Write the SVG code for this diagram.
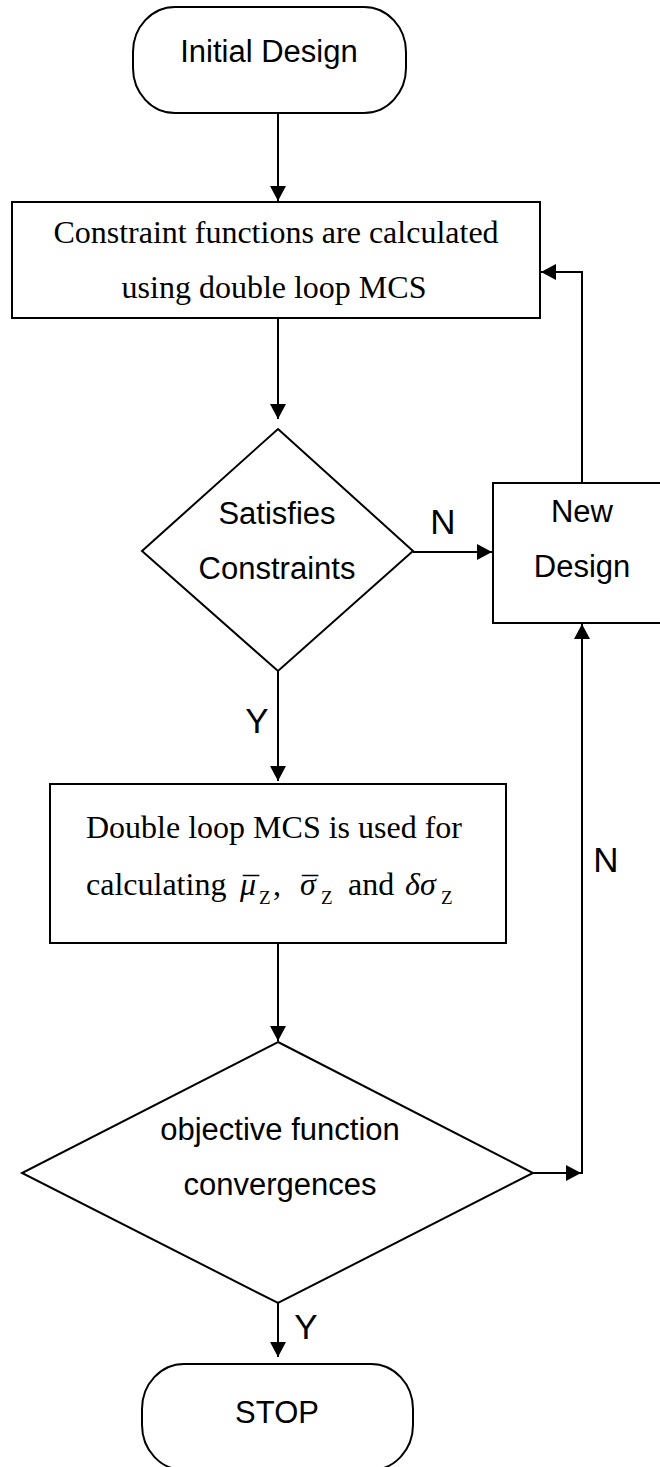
<svg xmlns="http://www.w3.org/2000/svg" width="660" height="1467" viewBox="0 0 660 1467">
<style>
.shape{fill:#fff;stroke:#000;stroke-width:2}
.conn{fill:none;stroke:#000;stroke-width:2}
.sans{font-family:"Liberation Sans",Arial,sans-serif;font-size:31px;fill:#000}
.lbl{font-family:"Liberation Sans",Arial,sans-serif;font-size:35px;fill:#000}
.serif{font-family:"Liberation Serif","Times New Roman",serif;font-size:32px;fill:#000}
.it{font-style:italic}
.sub{font-size:19px}
</style>
<defs>
<marker id="ah" markerUnits="userSpaceOnUse" markerWidth="16" markerHeight="16" refX="15" refY="8" orient="auto">
<path d="M0,0 L15,8 L0,16 z" fill="#000"/>
</marker>
</defs>
<rect width="660" height="1467" fill="#fff"/>
<g id="connectors">
<path class="conn" d="M278,113 V201" marker-end="url(#ah)"/>
<path class="conn" d="M278,318 V419" marker-end="url(#ah)"/>
<path class="conn" d="M278,671 V781" marker-end="url(#ah)"/>
<path class="conn" d="M278,943 V1041" marker-end="url(#ah)"/>
<path class="conn" d="M278,1303 V1357" marker-end="url(#ah)"/>
<path class="conn" d="M413,552 H492" marker-end="url(#ah)"/>
<path class="conn" d="M533,1173 H581" marker-end="url(#ah)"/>
<path class="conn" d="M582,1174 V624" marker-end="url(#ah)"/>
<path class="conn" d="M582,483 V272 H541" marker-end="url(#ah)"/>
<text class="lbl" x="443" y="534" text-anchor="middle">N</text>
<text class="lbl" x="257" y="733" text-anchor="middle">Y</text>
<text class="lbl" x="606" y="872" text-anchor="middle">N</text>
<text class="lbl" x="306" y="1339" text-anchor="middle">Y</text>
</g>
<g id="initial">
<rect class="shape" x="133" y="7" width="273" height="106" rx="42" ry="45"/>
<text class="sans" x="269" y="62" text-anchor="middle">Initial Design</text>
</g>
<g id="constraints-calc">
<rect class="shape" x="12" y="202" width="528" height="116"/>
<text class="serif" x="276" y="243" text-anchor="middle">Constraint functions are calculated</text>
<text class="serif" x="274" y="298" text-anchor="middle">using double loop MCS</text>
</g>
<g id="satisfies">
<polygon class="shape" points="278,429 413,551 278,671 142,551"/>
<text class="sans" x="277" y="524" text-anchor="middle">Satisfies</text>
<text class="sans" x="277" y="579" text-anchor="middle">Constraints</text>
</g>
<g id="new-design">
<rect class="shape" x="493" y="483" width="180" height="140"/>
<text class="sans" x="582" y="522" text-anchor="middle">New</text>
<text class="sans" x="582" y="577" text-anchor="middle">Design</text>
</g>
<g id="double-loop">
<rect class="shape" x="50" y="784" width="456" height="159"/>
<text class="serif" x="274" y="838" text-anchor="middle">Double loop MCS is used for</text>
<text class="serif" y="895"><tspan x="86">calculating</tspan><tspan x="240" class="it">μ</tspan><tspan x="243" y="899">¯</tspan><tspan x="259" y="904" class="sub">Z</tspan><tspan x="273" y="895">,</tspan><tspan x="300" class="it">σ</tspan><tspan x="302" y="899">¯</tspan><tspan x="321" y="904" class="sub">Z</tspan><tspan x="348" y="895">and</tspan><tspan x="405" class="it">δσ</tspan><tspan x="441" y="904" class="sub">Z</tspan></text>
</g>
<g id="objective">
<polygon class="shape" points="278,1042 533,1173 278,1303 22,1173"/>
<text class="sans" x="280" y="1140" text-anchor="middle">objective function</text>
<text class="sans" x="280" y="1195" text-anchor="middle">convergences</text>
</g>
<g id="stop">
<rect class="shape" x="142" y="1364" width="271" height="106" rx="42" ry="45"/>
<text class="sans" x="277" y="1423" text-anchor="middle">STOP</text>
</g>
</svg>
